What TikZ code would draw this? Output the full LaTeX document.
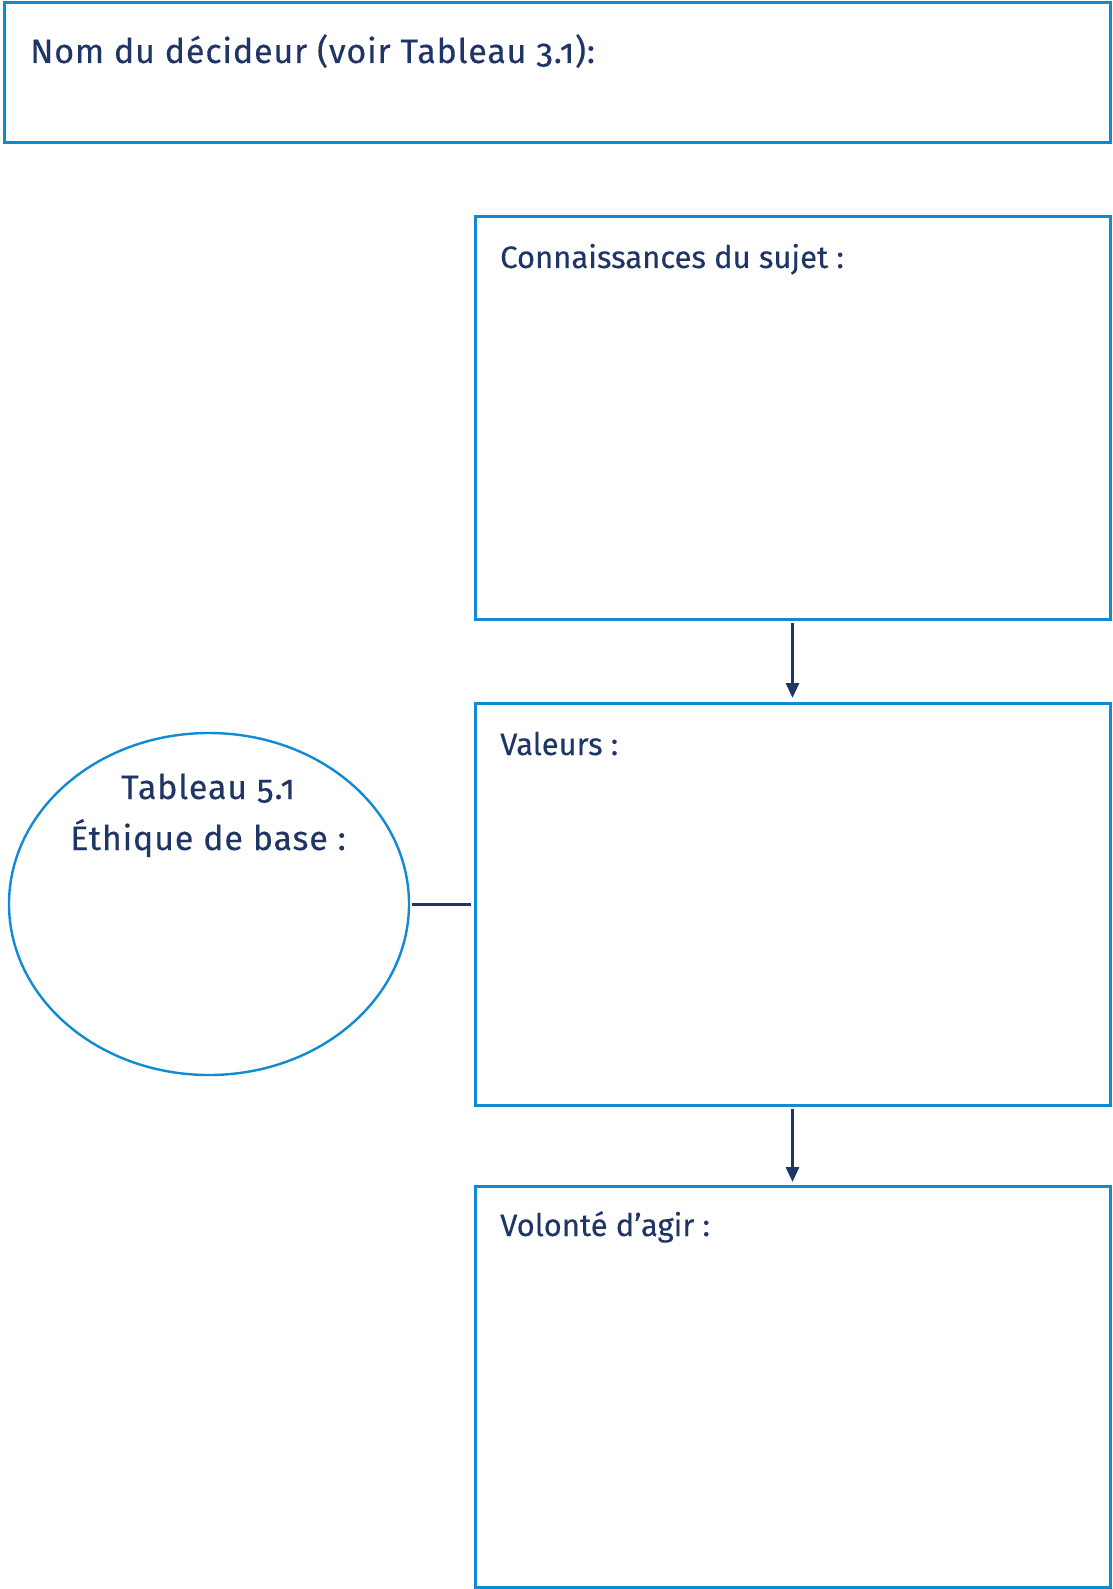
\documentclass[tikz,border=0pt]{standalone}
\usepackage{fontspec}
\setmainfont[Numbers=OldStyle]{Fira Sans}
\newfontfamily\boxfont[Numbers=OldStyle,FakeBold=0.3]{Fira Sans}
\newfontfamily\widefont[Numbers=OldStyle,LetterSpace=2.5,FakeBold=0.3]{Fira Sans}
\usetikzlibrary{shapes.geometric,arrows.meta}
\definecolor{boxblue}{RGB}{16,138,212}
\definecolor{navy}{RGB}{31,53,102}
\tikzset{
  frame/.style={draw=boxblue, line width=3pt, inner sep=0pt, outer sep=0pt, anchor=north west},
  lbl/.style={text=navy, inner sep=0pt, font=\boxfont\fontsize{31}{37}\selectfont},
  biglbl/.style={text=navy, inner sep=0pt, font=\widefont\fontsize{34}{40}\selectfont},
  conn/.style={draw=navy, line width=3pt},
}
\begin{document}
\begin{tikzpicture}[x=1pt,y=-1pt]
\useasboundingbox (0,0) rectangle (1112,1589);
\node[frame, minimum width=1106pt, minimum height=140pt] (name) at (4,3) {};
\node[frame, minimum width=635pt, minimum height=402pt] (conn) at (475,217) {};
\node[frame, minimum width=635pt, minimum height=402pt] (val) at (475,703) {};
\node[frame, minimum width=635pt, minimum height=401pt] (vol) at (475,1186) {};
\node[draw=boxblue, line width=2.4pt, ellipse, inner sep=0pt, outer sep=0pt, minimum width=400pt, minimum height=342pt] (eth) at (209,904) {};
\node[biglbl, anchor=base west] (tname) at (30,63) {Nom du décideur (voir Tableau 3.1):};
\node[lbl, anchor=base west] (tconn) at (500,268) {Connaissances du sujet :};
\node[lbl, anchor=base west] (tval) at (500,755) {Valeurs :};
\node[lbl, anchor=base west] (tvol) at (500,1236) {Volonté d’agir :};
\node[biglbl, anchor=base] (teth1) at (208,799) {Tableau 5.1};
\node[biglbl, anchor=base] (teth2) at (208,850) {Éthique de base :};
\draw[conn, -{Triangle[length=15pt,width=13pt]}, shorten <=4pt, shorten >=5pt] (conn.south) -- (val.north);
\draw[conn, -{Triangle[length=15pt,width=13pt]}, shorten <=4pt, shorten >=4pt] (val.south) -- (vol.north);
\draw[conn, shorten <=3pt, shorten >=4pt] (eth.east) -- (val.west);
\end{tikzpicture}
\end{document}
